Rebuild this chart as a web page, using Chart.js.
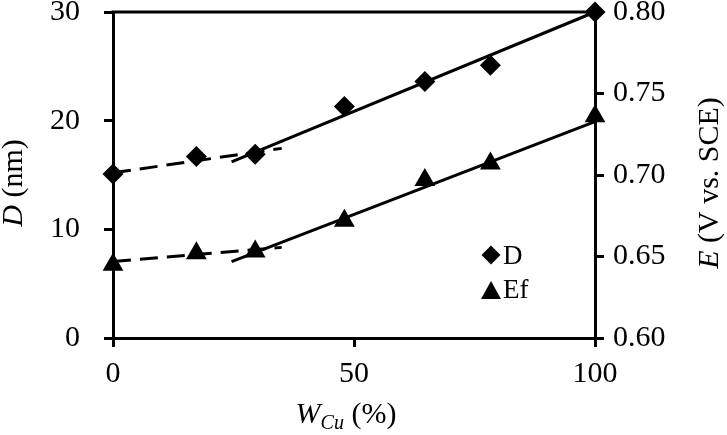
<!DOCTYPE html>
<html>
<head>
<meta charset="utf-8">
<script src="https://cdn.jsdelivr.net/npm/chart.js"></script>
<style>
  body { margin: 0; background: #fff; }
  #chart-container { width: 727px; height: 435px; }
</style>
</head>
<body>
<div id="chart-container"><canvas id="wcu-chart" width="727" height="435"></canvas></div>
<script>
// Datos
const wCu = [0, 17.3, 29.5, 48, 64.7, 78.3, 100];          // W_Cu (%)
const diamD = [15.1, 16.7, 16.9, 21.3, 23.6, 25.1, 30.0];  // D (nm)
const potEf = [0.645, 0.652, 0.653, 0.672, 0.697, 0.707, 0.736]; // E (V vs. SCE)

// Rectas de ajuste (extremos leídos)
const fitDashX = [0, 35];
const fitSolidX = [24.6, 100];
const dDash = [15.2, 17.45];
const dSolid = [16.2, 30.0];
const efDash = [0.647, 0.6556];
const efSolid = [0.6468, 0.7327];

const xTicks = [0, 50, 100];

const FONT = "'Liberation Serif', 'Times New Roman', Tinos, 'DejaVu Serif Condensed', 'DejaVu Serif', serif";

// Ajustar el tamaño de letra para que "0.80" mida ~53 px como en el original
const probe = document.createElement('canvas').getContext('2d');
probe.font = '30px ' + FONT;
const FS = Math.max(23, Math.min(30, Math.round(30 * 53 / probe.measureText('0.80').width)));
const FS_LEG = Math.round(FS * 0.9);
const FS_SUB = Math.round(FS * 0.67);

const toPts = (xs, ys) => xs.map((x, i) => ({ x: x, y: ys[i] }));

const fitLine = (xs, ys, axis, dashed) => ({
    data: toPts(xs, ys),
    yAxisID: axis,
    showLine: true,
    borderColor: '#000',
    borderWidth: 3,
    borderDash: dashed ? [18, 9] : [],
    pointRadius: 0,
    clip: false,
    order: 2,
});

// Título rotado con la primera letra en cursiva
const rotTitle = (ctx, x, y, first, rest) => {
    ctx.save();
    ctx.translate(x, y);
    ctx.rotate(-Math.PI / 2);
    ctx.textBaseline = 'middle';
    ctx.font = 'italic ' + FS + 'px ' + FONT;
    const w1 = ctx.measureText(first).width;
    ctx.font = FS + 'px ' + FONT;
    const w2 = ctx.measureText(rest).width;
    const x0 = -(w1 + w2) / 2;
    ctx.font = 'italic ' + FS + 'px ' + FONT;
    ctx.fillText(first, x0, 0);
    ctx.font = FS + 'px ' + FONT;
    ctx.fillText(rest, x0 + w1, 0);
    ctx.restore();
};

// Títulos de ejes, borde superior y leyenda dibujados a mano
const extras = {
    id: 'extras',
    beforeDatasetsDraw(chart) {
        const { ctx, chartArea: a } = chart;
        ctx.save();
        ctx.strokeStyle = '#000';
        ctx.lineWidth = 3;
        ctx.beginPath();
        ctx.moveTo(a.left - 1.5, a.top);
        ctx.lineTo(a.right + 1.5, a.top);
        ctx.stroke();
        ctx.restore();
    },
    afterDraw(chart) {
        const { ctx, chartArea: a } = chart;
        ctx.save();
        ctx.fillStyle = '#000';

        rotTitle(ctx, 14, 183, 'D', ' (nm)');
        rotTitle(ctx, 710, 183, 'E', ' (V vs. SCE)');

        // W_Cu (%)
        ctx.textBaseline = 'alphabetic';
        ctx.font = 'italic ' + FS + 'px ' + FONT;
        const wW = ctx.measureText('W').width;
        ctx.font = 'italic ' + FS_SUB + 'px ' + FONT;
        const wCuTxt = ctx.measureText('Cu').width;
        ctx.font = FS + 'px ' + FONT;
        const wPct = ctx.measureText(' (%)').width;
        const cx = (a.left + a.right) / 2 - 8;
        const xs = cx - (wW + wCuTxt + wPct) / 2;
        const base = 423;
        ctx.font = 'italic ' + FS + 'px ' + FONT;
        ctx.fillText('W', xs, base);
        ctx.font = 'italic ' + FS_SUB + 'px ' + FONT;
        ctx.fillText('Cu', xs + wW, base + 6);
        ctx.font = FS + 'px ' + FONT;
        ctx.fillText(' (%)', xs + wW + wCuTxt, base);

        // Leyenda
        const lx = a.right - 104;
        const ly1 = a.top + 243;
        const ly2 = a.top + 278;
        ctx.beginPath();
        ctx.moveTo(lx, ly1 - 9.5);
        ctx.lineTo(lx + 9.5, ly1);
        ctx.lineTo(lx, ly1 + 9.5);
        ctx.lineTo(lx - 9.5, ly1);
        ctx.closePath();
        ctx.fill();
        ctx.beginPath();
        ctx.moveTo(lx, ly2 - 9);
        ctx.lineTo(lx + 10, ly2 + 9);
        ctx.lineTo(lx - 10, ly2 + 9);
        ctx.closePath();
        ctx.fill();
        ctx.font = FS_LEG + 'px ' + FONT;
        ctx.fillText('D', lx + 12, ly1 + 9);
        ctx.fillText('Ef', lx + 12, ly2 + 8);
        ctx.restore();
    }
};

const tickFont = { family: FONT, size: FS };

const ctx = document.getElementById('wcu-chart').getContext('2d');

new Chart(ctx, {
    type: 'scatter',
    data: {
        datasets: [
            {
                label: 'D',
                data: toPts(wCu, diamD),
                yAxisID: 'y',
                pointStyle: 'rectRot',
                pointRadius: 10.5,
                pointBackgroundColor: '#000',
                pointBorderColor: '#000',
                pointBorderWidth: 0,
                clip: false,
                order: 1,
            },
            {
                label: 'Ef',
                data: toPts(wCu, potEf),
                yAxisID: 'y2',
                pointStyle: 'triangle',
                pointRadius: 12,
                pointBackgroundColor: '#000',
                pointBorderColor: '#000',
                pointBorderWidth: 0,
                clip: false,
                order: 1,
            },
            fitLine(fitDashX, dDash, 'y', true),
            fitLine(fitSolidX, dSolid, 'y', false),
            fitLine(fitDashX, efDash, 'y2', true),
            fitLine(fitSolidX, efSolid, 'y2', false),
        ],
    },
    options: {
        responsive: false,
        animation: false,
        layout: { padding: 0 },
        plugins: {
            legend: { display: false },
            tooltip: { enabled: false },
        },
        scales: {
            x: {
                type: 'linear',
                position: 'bottom',
                min: 0,
                max: 100,
                afterBuildTicks: s => { s.ticks = xTicks.map(v => ({ value: v })); },
                ticks: { color: '#000', font: tickFont, padding: 9, maxRotation: 0 },
                grid: { drawOnChartArea: false, color: '#000', lineWidth: 3, tickLength: 9 },
                border: { color: '#000', width: 3 },
                afterFit: s => { s.height = 97; s.paddingLeft = 0; s.paddingRight = 0; },
            },
            y: {
                position: 'left',
                min: 0,
                max: 30,
                ticks: { stepSize: 10, color: '#000', font: tickFont, padding: 24 },
                grid: { drawOnChartArea: false, color: '#000', lineWidth: 3, tickLength: 9 },
                border: { color: '#000', width: 3 },
                afterFit: s => { s.width = 113; s.paddingTop = 12; s.paddingBottom = 0; },
            },
            y2: {
                position: 'right',
                min: 0.6,
                max: 0.8,
                ticks: {
                    stepSize: 0.05,
                    color: '#000',
                    font: tickFont,
                    padding: 9,
                    callback: v => v.toFixed(2),
                },
                grid: { drawOnChartArea: false, color: '#000', lineWidth: 3, tickLength: 9 },
                border: { color: '#000', width: 3 },
                afterFit: s => { s.width = 132; s.paddingTop = 12; s.paddingBottom = 0; },
            },
        },
    },
    plugins: [extras],
});
</script>
</body>
</html>
